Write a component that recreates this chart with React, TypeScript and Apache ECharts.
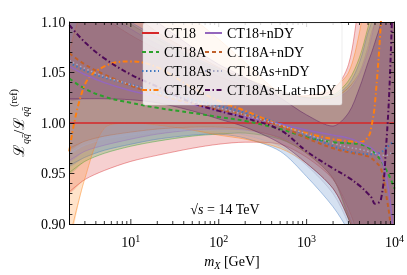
import React, { useEffect, useRef } from "react";
import * as echarts from "echarts";

const mass = [2, 3, 5, 10, 20, 50, 100, 200, 500, 1000, 2000, 3000, 4000, 5000, 5500, 6000, 7000, 8000, 9000, 10000];

// central values
const ct18 = [1, 1, 1, 1, 1, 1, 1, 1, 1, 1, 1, 1, 1, 1, 1, 1, 1, 1, 1, 1];
const ct18A = [1.044, 1.034, 1.026, 1.02, 1.015, 1.01, 1.006, 1.002, 0.994, 0.986, 0.981, 0.98, 0.979, 0.976, 0.973, 0.97, 0.963, 0.954, 0.945, 0.935];
const ct18As = [1.06, 1.052, 1.045, 1.038, 1.031, 1.023, 1.017, 1.01, 0.999, 0.988, 0.977, 0.972, 0.97, 0.969, 0.969, 0.969, 0.971, 0.975, 0.979, 0.982];
const ct18Z = [0.972, 1.038, 1.056, 1.061, 1.055, 1.035, 1.022, 1.012, 0.998, 0.99, 0.984, 0.982, 0.981, 0.986, 0.998, 1.02, 1.1, 1.2, 1.25, 1.3];
const ct18nDY = [1.056, 1.048, 1.04, 1.032, 1.026, 1.018, 1.012, 1.006, 0.999, 0.993, 0.988, 0.985, 0.981, 0.977, 0.975, 0.972, 0.966, 0.948, 0.92, 0.87];
const ct18AnDY = [1.069, 1.058, 1.048, 1.037, 1.028, 1.019, 1.013, 1.008, 0.997, 0.985, 0.975, 0.971, 0.969, 0.967, 0.965, 0.962, 0.955, 0.93, 0.9, 0.86];
const ct18AsnDY = [1.062, 1.054, 1.046, 1.038, 1.03, 1.021, 1.015, 1.008, 0.998, 0.989, 0.98, 0.976, 0.974, 0.972, 0.971, 0.97, 0.968, 0.968, 0.97, 0.972];
const ct18AsLatnDY = [1.097, 1.08, 1.064, 1.048, 1.036, 1.02, 1.012, 1.005, 0.993, 0.972, 0.955, 0.946, 0.938, 0.93, 0.926, 0.92, 0.924, 0.975, 1.06, 1.2];

// uncertainty bands (lower / upper)
const ct18Lo = [0.932, 0.944, 0.953, 0.962, 0.968, 0.975, 0.979, 0.981, 0.979, 0.966, 0.944, 0.915, 0.885, 0.86, 0.85, 0.85, 0.85, 0.85, 0.85, 0.85];
const ct18Hi = [1.15, 1.13, 1.105, 1.087, 1.073, 1.057, 1.046, 1.037, 1.028, 1.027, 1.033, 1.058, 1.12, 1.15, 1.15, 1.15, 1.15, 1.15, 1.15, 1.15];
const ct18ALo = [0.951, 0.962, 0.97, 0.977, 0.982, 0.987, 0.989, 0.99, 0.984, 0.97, 0.945, 0.905, 0.875, 0.86, 0.85, 0.85, 0.85, 0.85, 0.85, 0.85];
const ct18AHi = [1.15, 1.14, 1.12, 1.098, 1.083, 1.064, 1.052, 1.042, 1.03, 1.025, 1.028, 1.042, 1.065, 1.095, 1.11, 1.13, 1.15, 1.15, 1.15, 1.15];
const ct18AsLo = [0.958, 0.966, 0.973, 0.979, 0.984, 0.988, 0.989, 0.985, 0.972, 0.947, 0.917, 0.893, 0.87, 0.85, 0.85, 0.85, 0.85, 0.85, 0.85, 0.85];
const ct18AsHi = [1.15, 1.14, 1.12, 1.1, 1.085, 1.066, 1.054, 1.044, 1.031, 1.025, 1.027, 1.038, 1.06, 1.09, 1.1, 1.12, 1.15, 1.15, 1.15, 1.15];
const ct18ZLo = [0.885, 0.945, 0.995, 1.0, 0.998, 0.993, 0.988, 0.984, 0.975, 0.96, 0.935, 0.905, 0.875, 0.85, 0.85, 0.85, 0.85, 0.85, 0.85, 0.85];
const ct18ZHi = [1.07, 1.12, 1.15, 1.15, 1.14, 1.105, 1.083, 1.06, 1.03, 1.027, 1.035, 1.05, 1.09, 1.14, 1.15, 1.15, 1.15, 1.15, 1.15, 1.15];
const ct18nDYLo = [0.963, 0.972, 0.978, 0.984, 0.989, 0.993, 0.994, 0.993, 0.986, 0.972, 0.945, 0.91, 0.88, 0.86, 0.85, 0.85, 0.85, 0.85, 0.85, 0.85];
const ct18nDYHi = [1.15, 1.13, 1.11, 1.093, 1.078, 1.062, 1.05, 1.041, 1.03, 1.024, 1.024, 1.032, 1.048, 1.07, 1.085, 1.1, 1.13, 1.15, 1.15, 1.15];
const ct18AnDYLo = [0.975, 0.982, 0.987, 0.991, 0.994, 0.996, 0.996, 0.994, 0.985, 0.97, 0.945, 0.908, 0.878, 0.86, 0.85, 0.85, 0.85, 0.85, 0.85, 0.85];
const ct18AnDYHi = [1.15, 1.15, 1.13, 1.11, 1.09, 1.07, 1.055, 1.044, 1.032, 1.025, 1.025, 1.035, 1.05, 1.075, 1.09, 1.1, 1.12, 1.15, 1.15, 1.15];
const ct18AsnDYLo = [0.97, 0.978, 0.984, 0.988, 0.991, 0.993, 0.992, 0.988, 0.977, 0.958, 0.93, 0.9, 0.87, 0.855, 0.85, 0.85, 0.85, 0.85, 0.85, 0.85];
const ct18AsnDYHi = [1.15, 1.14, 1.12, 1.1, 1.085, 1.066, 1.053, 1.043, 1.031, 1.024, 1.024, 1.034, 1.05, 1.075, 1.09, 1.105, 1.13, 1.15, 1.15, 1.15];
const ct18AsLatnDYLo = [1.024, 1.024, 1.024, 1.023, 1.02, 1.012, 1.004, 0.996, 0.98, 0.96, 0.935, 0.905, 0.875, 0.86, 0.85, 0.85, 0.85, 0.85, 0.85, 0.85];
const ct18AsLatnDYHi = [1.15, 1.15, 1.14, 1.12, 1.1, 1.075, 1.058, 1.045, 1.025, 1.008, 0.997, 1.01, 1.035, 1.06, 1.07, 1.08, 1.1, 1.15, 1.15, 1.15];

const majorTicks = [10, 100, 1000, 10000];
const minorTicks = [3, 4, 5, 6, 7, 8, 9, 20, 30, 40, 50, 60, 70, 80, 90, 200, 300, 400, 500, 600, 700, 800, 900, 2000, 3000, 4000, 5000, 6000, 7000, 8000, 9000];
const yTickLabels = ["0.90", "0.95", "1.00", "1.05", "1.10"];

const FONT = "Liberation Serif";

const pdfs: any[] = [
  { name: "CT18", c: ct18, lo: ct18Lo, hi: ct18Hi, color: "#d62728", type: "solid", width: 1.5 },
  { name: "CT18A", c: ct18A, lo: ct18ALo, hi: ct18AHi, color: "#2ca02c", type: [4, 3], width: 2 },
  { name: "CT18As", c: ct18As, lo: ct18AsLo, hi: ct18AsHi, color: "#3f78c0", type: [1.5, 2.5], width: 2 },
  { name: "CT18Z", c: ct18Z, lo: ct18ZLo, hi: ct18ZHi, color: "#ff7f0e", type: [5, 2.5, 1.5, 2.5], width: 2 },
  { name: "CT18+nDY", c: ct18nDY, lo: ct18nDYLo, hi: ct18nDYHi, color: "#9467bd", type: "solid", width: 1.5 },
  { name: "CT18A+nDY", c: ct18AnDY, lo: ct18AnDYLo, hi: ct18AnDYHi, color: "#c0602a", type: [4, 3], width: 2 },
  { name: "CT18As+nDY", c: ct18AsnDY, lo: ct18AsnDYLo, hi: ct18AsnDYHi, color: "#a8a8c4", type: [1.5, 2.5], width: 1.5 },
  { name: "CT18As+Lat+nDY", c: ct18AsLatnDY, lo: ct18AsLatnDYLo, hi: ct18AsLatnDYHi, color: "#4e0a58", type: [5, 2.5, 1.5, 2.5], width: 2 },
];

function rgba(hex: string, a: number) {
  const n = parseInt(hex.slice(1), 16);
  return `rgba(${(n >> 16) & 255},${(n >> 8) & 255},${n & 255},${a})`;
}

export default function App() {
  const ref = useRef<HTMLDivElement>(null);
  useEffect(() => {
    if (!ref.current) return;
    const chart = echarts.init(ref.current, null, { renderer: "svg" });
    const series: any[] = [];
    pdfs.forEach((p) => {
      series.push({
        type: "custom",
        name: p.name + "_band",
        clip: true,
        silent: true,
        z: 2,
        data: mass.map((m, k) => [m, p.lo[k], p.hi[k]]),
        encode: { x: 0, y: [1, 2] },
        renderItem: (params: any, api: any) => {
          if (params.dataIndex !== 0) return null;
          const n = mass.length;
          const lo: number[][] = [];
          const hi: number[][] = [];
          for (let k = 0; k < n; k++) {
            lo.push(api.coord([api.value(0, k), api.value(1, k)]));
            hi.push(api.coord([api.value(0, k), api.value(2, k)]));
          }
          return {
            type: "group",
            children: [
              {
                type: "polygon",
                shape: { points: [...hi, ...lo.slice().reverse()], smooth: 0.3 },
                style: { fill: rgba(p.color, 0.22), stroke: "none" },
              },
              {
                type: "polyline",
                shape: { points: lo, smooth: 0.3 },
                style: { stroke: rgba(p.color, 0.7), lineWidth: 0.6, fill: "none" },
              },
              {
                type: "polyline",
                shape: { points: hi, smooth: 0.3 },
                style: { stroke: rgba(p.color, 0.7), lineWidth: 0.6, fill: "none" },
              },
            ],
          };
        },
      });
    });
    pdfs.forEach((p) => {
      series.push({
        type: "line",
        name: p.name,
        data: mass.map((m, k) => [m, p.c[k]]),
        symbol: "none",
        smooth: 0.4,
        lineStyle: { color: p.color, width: p.width, type: p.type },
        itemStyle: { color: p.color },
        z: 3,
      });
    });
    const tickData = [...majorTicks.map((v) => [v, 1]), ...minorTicks.map((v) => [v, 0])];
    series.push({
      type: "custom",
      name: "xticks",
      data: tickData,
      z: 12,
      silent: true,
      renderItem: (params: any, api: any) => {
        const x = api.value(0);
        const major = api.value(1);
        const b = api.coord([x, 0.9]);
        const t = api.coord([x, 1.1]);
        const len = major ? 5 : 3;
        return {
          type: "group",
          children: [
            { type: "line", shape: { x1: b[0], y1: b[1], x2: b[0], y2: b[1] - len }, style: { stroke: "#000", lineWidth: 0.8 } },
            { type: "line", shape: { x1: t[0], y1: t[1], x2: t[0], y2: t[1] + len }, style: { stroke: "#000", lineWidth: 0.8 } },
          ],
        };
      },
    });

    const yAxisCommon = {
      type: "value",
      min: 0.9,
      max: 1.1,
      interval: 0.05,
      z: 10,
      splitLine: { show: false },
      axisLine: { show: true, lineStyle: { color: "#000", width: 1 } },
      axisTick: { show: true, inside: true, length: 5, lineStyle: { color: "#000", width: 0.8 } },
      minorTick: { show: true, splitNumber: 5, length: 3, lineStyle: { color: "#000", width: 0.8 } },
    };

    const legendCommon = {
      orient: "vertical",
      top: 26,
      padding: 0,
      itemGap: 5,
      itemWidth: 17,
      itemHeight: 14,
      z: 20,
      selectedMode: false,
      itemStyle: { opacity: 0 },
      textStyle: { fontFamily: FONT, fontSize: 14, color: "#000" },
    };

    chart.setOption({
      animation: false,
      grid: { left: 54, right: 10, top: 22, bottom: 47 },
      xAxis: [
        {
          type: "log",
          logBase: 10,
          min: 2,
          max: 10000,
          z: 10,
          splitLine: { show: false },
          axisLine: { show: true, lineStyle: { color: "#000", width: 1 } },
          axisTick: { show: false },
          axisLabel: {
            margin: 9,
            formatter: (v: number) => {
              const e = Math.log10(v);
              const r = Math.round(e);
              if (Math.abs(e - r) > 1e-6) return "";
              return "{a|10}{s|" + r + "}";
            },
            rich: {
              a: { fontFamily: FONT, fontSize: 14, color: "#000", lineHeight: 18 },
              s: { fontFamily: FONT, fontSize: 10, color: "#000", verticalAlign: "top", lineHeight: 10 },
            },
          },
          name: "{i|m}{s|X}{n| [GeV]}",
          nameLocation: "middle",
          nameGap: 28,
          nameTextStyle: {
            rich: {
              i: { fontFamily: FONT, fontSize: 14, fontStyle: "italic", color: "#000", lineHeight: 18 },
              s: { fontFamily: FONT, fontSize: 10, fontStyle: "italic", color: "#000", verticalAlign: "bottom", lineHeight: 10 },
              n: { fontFamily: FONT, fontSize: 14, color: "#000", lineHeight: 18 },
            },
          },
        },
        {
          type: "log",
          logBase: 10,
          min: 2,
          max: 10000,
          position: "top",
          z: 10,
          splitLine: { show: false },
          axisLine: { show: true, lineStyle: { color: "#000", width: 1 } },
          axisTick: { show: false },
          axisLabel: { show: false },
        },
      ],
      yAxis: [
        {
          ...yAxisCommon,
          position: "left",
          axisLabel: {
            margin: 4,
            fontFamily: FONT,
            fontSize: 14,
            color: "#000",
            formatter: (v: number) => yTickLabels[Math.round((v - 0.9) / 0.05)] ?? "",
          },
          name: "{L|ℒ}{s|qq̄}{L|/ℒ}{s|qq̄}{p|(ref)}",
          nameLocation: "middle",
          nameRotate: 90,
          nameGap: 33,
          nameTextStyle: {
            rich: {
              L: { fontFamily: FONT, fontSize: 15, color: "#000", lineHeight: 22 },
              s: { fontFamily: FONT, fontSize: 10, fontStyle: "italic", color: "#000", verticalAlign: "bottom", lineHeight: 10 },
              p: { fontFamily: FONT, fontSize: 10, color: "#000", verticalAlign: "top", lineHeight: 10 },
            },
          },
        },
        {
          ...yAxisCommon,
          position: "right",
          axisLabel: { show: false },
        },
      ],
      legend: [
        { ...legendCommon, data: ["CT18", "CT18A", "CT18As", "CT18Z"], left: 141 },
        { ...legendCommon, data: ["CT18+nDY", "CT18A+nDY", "CT18As+nDY", "CT18As+Lat+nDY"], left: 204 },
      ],
      graphic: [
        {
          type: "rect",
          z: 15,
          silent: true,
          shape: { x: 143, y: 23, width: 199, height: 82, r: 2 },
          style: { fill: "rgba(255,255,255,0.8)", stroke: "rgba(210,210,210,0.5)", lineWidth: 0.8 },
        },
        {
          type: "text",
          z: 15,
          x: 225,
          y: 209,
          style: {
            text: "{a|√}{i|s}{a| = 14 TeV}",
            textAlign: "center",
            textVerticalAlign: "middle",
            rich: {
              a: { fontFamily: FONT, fontSize: 14, fill: "#000" },
              i: { fontFamily: FONT, fontSize: 14, fontStyle: "italic", fill: "#000" },
            },
          },
        },
      ],
      series,
    });
    return () => chart.dispose();
  }, []);
  return <div ref={ref} style={{ position: "fixed", left: 0, top: 0, width: 407, height: 275 }} />;
}
